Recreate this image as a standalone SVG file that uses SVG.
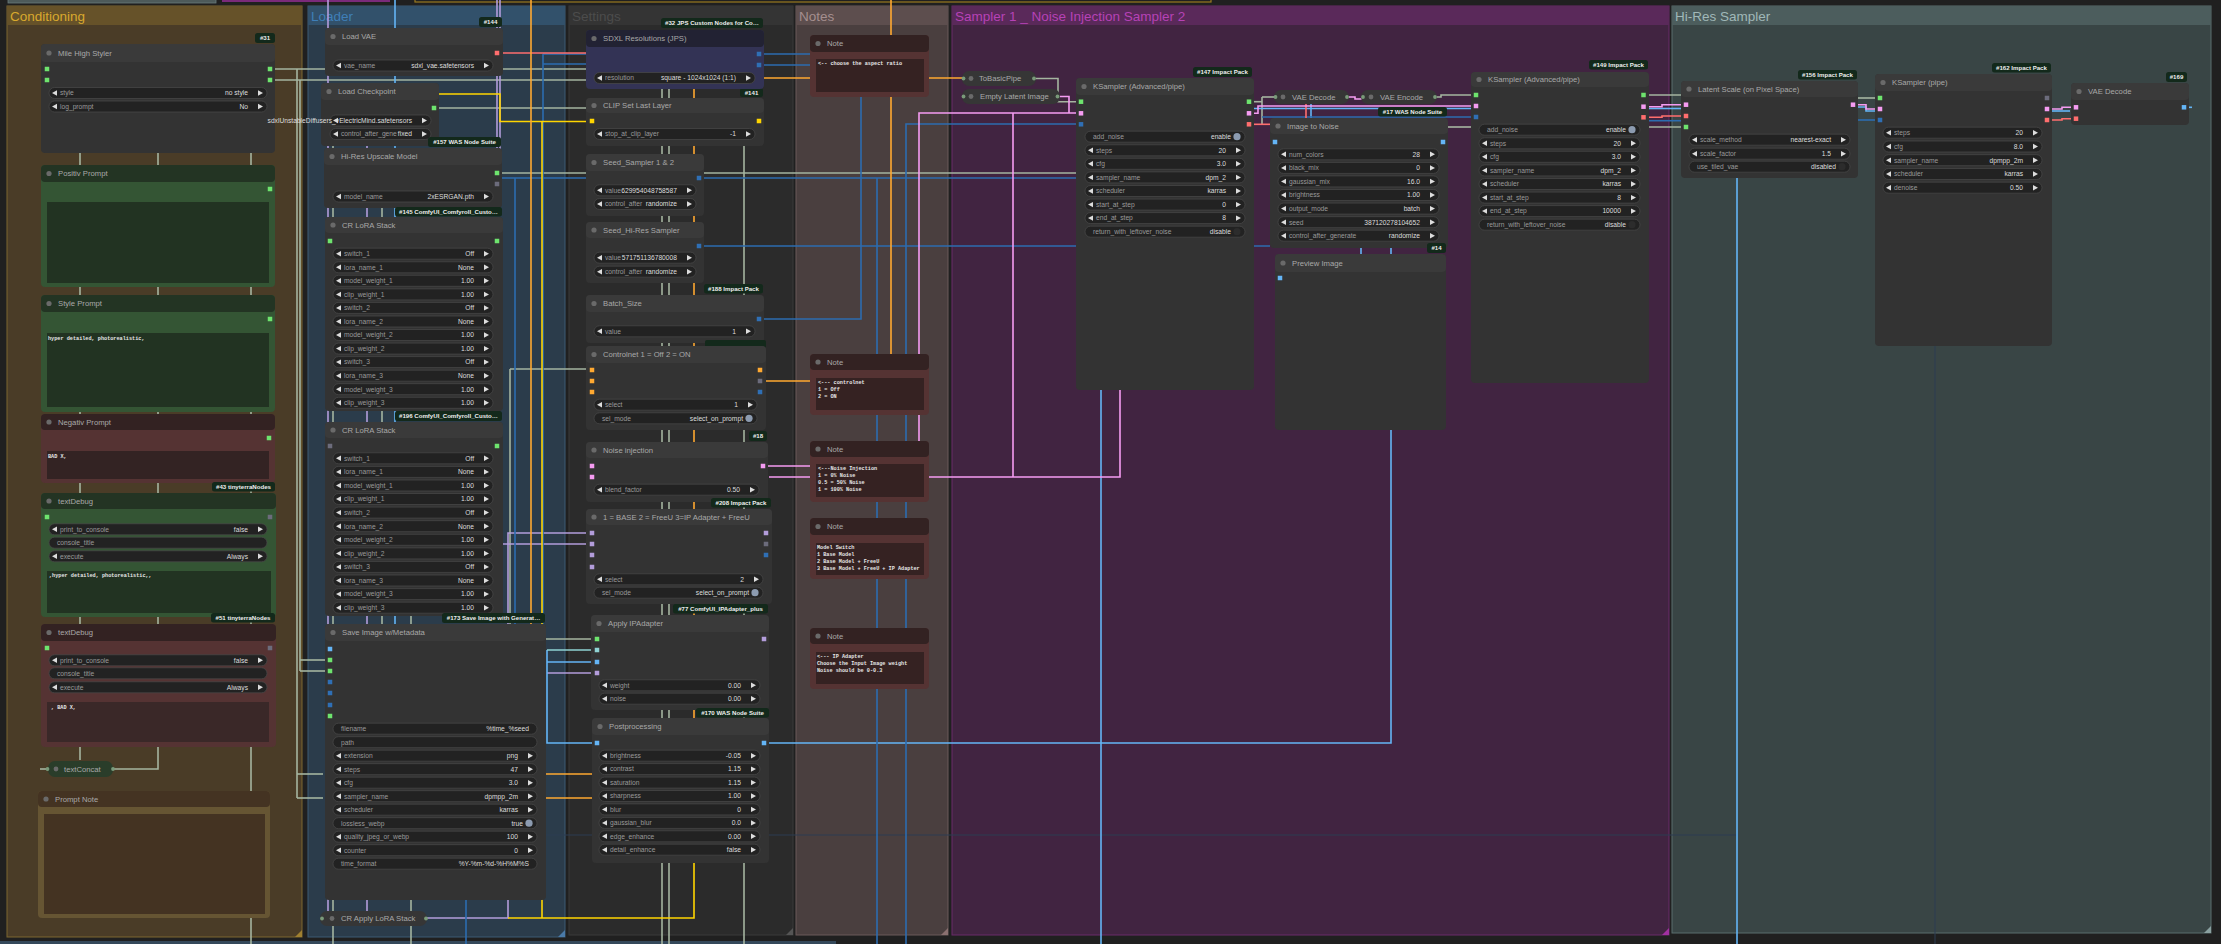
<svg xmlns="http://www.w3.org/2000/svg" width="2221" height="944" viewBox="0 0 2221 944">
<defs>
<style>
.nb{fill:#333333}.nt{fill:#3a3a3a}
.gb{fill:#345534}.gh{fill:#233423}
.rb{fill:#553333}.rh{fill:#332222}
.yb{fill:#665533}.yh{fill:#443322}
.bb{fill:#333355}.bh{fill:#222233}
.pill{fill:#363636}
.dt{fill:#6a6a6a}
.tt{font:7.7px "Liberation Sans",Arial,sans-serif;fill:#a9a9a9}
.wp{fill:#222222;stroke:#4b4b4b;stroke-width:.7}
.wl{font:6.7px "Liberation Sans",Arial,sans-serif;fill:#9a9a9a}
.wv{font:6.7px "Liberation Sans",Arial,sans-serif;fill:#dddddd;text-anchor:end}
.bd{fill:#13291b}
.bt{font:bold 6.1px "Liberation Sans",Arial,sans-serif;fill:#eeeeee;text-anchor:middle}
.gt{font:13.5px "Liberation Sans",Arial,sans-serif}
.mono{font:bold 5.2px "Liberation Mono","Courier New",monospace;fill:#e6e6e6}
.sG{fill:#6ee46e}.sP{fill:#f59cf2}.sR{fill:#ff6e6e}.sB{fill:#2f6fb5}.sL{fill:#64b5f6}.sY{fill:#ffd500}.sO{fill:#ffa931}.sV{fill:#b39ddb}.sX{fill:#6c6c7c}.sC{fill:#8fd3d3}
.ton{fill:#8c9bb0}.toff{fill:#2c2c2c}
.cd{fill:#7a9a7a}
</style>
<path id="la" d="M0,0l5,-2.7v5.4z" fill="#dddddd"/>
<path id="ra" d="M0,0l-5,-2.7v5.4z" fill="#dddddd"/>
<rect id="sq" width="4.5" height="4.5"/>
</defs>
<rect x="0" y="0" width="2221" height="944" fill="#202020"/>

<!-- groups -->
<g id="group-conditioning">
<rect x="7" y="6" width="295" height="931" fill="#4a3c27" stroke="#7c6630" stroke-width="1"/>
<rect x="7" y="6" width="295" height="19" fill="#665229"/>
<text class="gt" x="10" y="21" fill="#d9a92e">Conditioning</text>
<path d="M302,930L302,937L295,937Z" fill="#a08030"/>
</g>
<g id="group-loader">
<rect x="308" y="6" width="257" height="931" fill="#2b3c4b" stroke="#3d5a74" stroke-width="1"/>
<rect x="308" y="6" width="257" height="19" fill="#32516b"/>
<text class="gt" x="311" y="21" fill="#3f7fb8">Loader</text>
<path d="M565,930L565,937L558,937Z" fill="#4a7aa8"/>
</g>
<g id="group-settings">
<rect x="569" y="6" width="224" height="929" fill="#2b2b2b" stroke="#3a3a3a" stroke-width="1"/>
<rect x="569" y="6" width="224" height="19" fill="#343434"/>
<text class="gt" x="572" y="21" fill="#4c4c4c">Settings</text>
<path d="M793,928L793,935L786,935Z" fill="#555555"/>
</g>
<g id="group-notes">
<rect x="796" y="6" width="152" height="929" fill="#4a3f3f" stroke="#6a5a5a" stroke-width="1"/>
<rect x="796" y="6" width="152" height="19" fill="#5d4e4e"/>
<text class="gt" x="799" y="21" fill="#a58f8f">Notes</text>
<path d="M948,928L948,935L941,935Z" fill="#8a7070"/>
</g>
<g id="group-sampler">
<rect x="952" y="6" width="717" height="929" fill="#412441" stroke="#6a2a6a" stroke-width="1"/>
<rect x="952" y="6" width="717" height="19" fill="#5a295a"/>
<text class="gt" x="955" y="21" fill="#b642b6">Sampler 1 _ Noise Injection Sampler 2</text>
<path d="M1669,928L1669,935L1662,935Z" fill="#a030a0"/>
</g>
<g id="group-hires">
<rect x="1672" y="6" width="539" height="927" fill="#394545" stroke="#5a6e6e" stroke-width="1"/>
<rect x="1672" y="6" width="539" height="19" fill="#4c5d5d"/>
<text class="gt" x="1675" y="21" fill="#a0b8b8">Hi-Res Sampler</text>
<path d="M2211,926L2211,933L2204,933Z" fill="#8aa0a0"/>
</g>
<g id="offscreen-group-edges">
<rect x="8" y="-2" width="208" height="5" fill="#4d5a5a" stroke="#6a7a7a" stroke-width=".8"/>
<rect x="222" y="-2" width="168" height="4" fill="#7a2a7a"/>
<rect x="415" y="-3" width="796" height="5" fill="none" stroke="#9a7a20" stroke-width="1.2"/>
<rect x="0" y="941" width="836" height="4" fill="#34485a"/>
</g>

<!-- connectors -->
<g id="connectors" fill="none" stroke-width="1.6">
<g stroke="#2d3c52" stroke-width="1">
<path d="M546,835H1737"/><path d="M1935,346V944"/>
</g>
<g stroke="#a5b5a0">
<path d="M270,69H586"/><path d="M270,80H586"/>
<path d="M297,69V798"/><path d="M300,80V671"/>
<path d="M300,660H330"/><path d="M300,671H330"/>
<path d="M297,774H323"/><path d="M297,798H323"/>
<path d="M80,153V760"/><path d="M158,153V769H113"/><path d="M251,153V944"/>
<path d="M40,769H47"/>
<path d="M333,146V944"/><path d="M382,208V624"/><path d="M411,613V944"/>
<path d="M434,108H586"/><path d="M497,173H1076"/>
<path d="M510,369V639H597"/><path d="M510,369H586"/>
<path d="M662,83V944"/><path d="M669,83V944"/><path d="M744,146V944"/>
<path d="M1034,78.5H1058V101.7H1081"/>
<path d="M1249,101.7H1262"/><path d="M1262,97V125"/><path d="M1262,97H1275"/>
<path d="M1435,97H1441V95H1476"/><path d="M1448,127H1476"/>
<path d="M1643,95H1681"/><path d="M1649,127H1686"/><path d="M1858,98H1880"/>
</g>
<g stroke="#b39ddb">
<path d="M328,0V911"/><path d="M367,146V911"/>
<path d="M497,0V150"/><path d="M500,0V150"/>
<path d="M425,918H508V533H592"/><path d="M503,544H592"/>
<path d="M547,673H597"/>
</g>
<g stroke="#64b5f6">
<path d="M395,0V624"/>
<path d="M547,650V743H597"/><path d="M547,662H597"/>
<path d="M764,743H1391V430"/>
<path d="M1101,390V944"/>
<path d="M1254,108.5H1476"/>
<path d="M1311,104V118"/><path d="M1361,248V254"/><path d="M1391,248V254"/>
<path d="M1649,108.5H1681"/>
<path d="M1858,107H1866V111H1876"/><path d="M2052,111H2070"/><path d="M2186,107.3H2192"/>
<path d="M1737,178V944"/>
</g>
<path stroke="#8fd3d3" d="M547,650H597"/>
<g stroke="#2c6cb0">
<path d="M466,640V944"/>
<path d="M543,54V662"/><path d="M543,54H586"/><path d="M543,64H586"/>
<path d="M502,178H1076"/><path d="M515,178V650"/>
<path d="M764,54H810"/><path d="M764,65H810"/>
<path d="M764,319H861V97"/>
<path d="M877,178V944"/>
<path d="M906,944V124H1081"/>
<path d="M699,246H1270"/>
<path d="M1262,117H1476"/>
<path d="M1649,120.7H1681"/><path d="M1858,120H1880"/>
</g>
<g stroke="#ff6e6e">
<path d="M497,53H586"/>
<path d="M1249,124.3H1270"/><path d="M1306,104V118"/>
<path d="M1643,117.3H1662V116H1686"/>
<path d="M2047,120H2062V118.7H2076"/>
</g>
<g stroke="#ffd500">
<path d="M439,94H500V121.5H592"/>
<path d="M542,121.5V918"/>
<path d="M508,918H694V863"/>
</g>
<g stroke="#ffa931">
<path d="M531,0V624"/>
<path d="M531,774H592"/><path d="M531,798H592"/>
<path d="M764,78H964"/>
<path d="M694,83V718"/>
<path d="M766,381H891V0"/>
</g>
<g stroke="#f59cf2">
<path d="M764,466H919V113H1081"/>
<path d="M769,477H1120V390"/>
<path d="M1013,113V477"/>
<path d="M1057,96.5H1069V113"/>
<path d="M1249,113.3H1258V106H1476"/>
<path d="M1347,97H1355V99H1363"/>
<path d="M1643,106.7H1662V104.7H1686"/>
<path d="M1853,104.7H1866V109H1880"/>
<path d="M2047,109H2062V107.3H2076"/>
</g>
</g>

<!-- ===== Conditioning nodes ===== -->
<g id="node-31-mile-high-styler">
<rect class="bd" x="255" y="33" width="20" height="10" rx="2.5"/><text class="bt" x="265" y="40.3">#31</text>
<rect class="nb" x="41" y="44" width="234" height="109" rx="4"/>
<rect class="nt" x="41" y="44" width="234" height="18" rx="4"/>
<circle class="dt" cx="49" cy="53" r="2.6"/><text class="tt" x="58" y="55.7">Mile High Styler</text>
<use href="#sq" class="sG" x="44.75" y="66.75"/><use href="#sq" class="sG" x="44.75" y="77.75"/>
<use href="#sq" class="sG" x="267.75" y="66.75"/><use href="#sq" class="sG" x="267.75" y="77.75"/>
<rect class="wp" x="49" y="87.5" width="218" height="11" rx="5.5"/><use href="#la" x="52" y="93"/><use href="#ra" x="263" y="93"/><text class="wl" x="60" y="95.3">style</text><text class="wv" x="248" y="95.3">no style</text>
<rect class="wp" x="49" y="101" width="218" height="11" rx="5.5"/><use href="#la" x="52" y="106.5"/><use href="#ra" x="263" y="106.5"/><text class="wl" x="60" y="108.8">log_prompt</text><text class="wv" x="248" y="108.8">No</text>
</g>
<g id="node-positiv-prompt">
<rect class="gb" x="41" y="165" width="234" height="122" rx="4"/>
<rect class="gh" x="41" y="165" width="234" height="17" rx="4"/>
<circle class="dt" cx="49" cy="173.5" r="2.6"/><text class="tt" x="58" y="176.2">Positiv Prompt</text>
<use href="#sq" class="sG" x="267.75" y="186.75"/>
<rect x="47" y="202" width="222" height="81" fill="#223322"/>
</g>
<g id="node-style-prompt">
<rect class="gb" x="41" y="295" width="234" height="117" rx="4"/>
<rect class="gh" x="41" y="295" width="234" height="17" rx="4"/>
<circle class="dt" cx="49" cy="303.5" r="2.6"/><text class="tt" x="58" y="306.2">Style Prompt</text>
<use href="#sq" class="sG" x="267.75" y="316.75"/>
<rect x="47" y="333" width="222" height="74" fill="#223322"/>
<text class="mono" x="48" y="339.5">hyper detailed, photorealistic,</text>
</g>
<g id="node-negativ-prompt">
<rect class="rb" x="41" y="414" width="234" height="69" rx="4"/>
<rect class="rh" x="41" y="414" width="234" height="16" rx="4"/>
<circle class="dt" cx="49" cy="422" r="2.6"/><text class="tt" x="58" y="424.7">Negativ Prompt</text>
<use href="#sq" class="sG" x="266.75" y="435.75"/>
<rect x="47" y="451" width="222" height="28" fill="#332323"/>
<text class="mono" x="48" y="457.5">BAD X,</text>
</g>
<g id="node-43-textdebug">
<rect class="bd" x="212" y="482" width="63" height="9.5" rx="2.5"/><text class="bt" x="243.5" y="489">#43 tinyterraNodes</text>
<rect class="gb" x="41" y="493" width="235" height="124" rx="4"/>
<rect class="gh" x="41" y="493" width="235" height="16" rx="4"/>
<circle class="dt" cx="49" cy="501" r="2.6"/><text class="tt" x="58" y="503.7">textDebug</text>
<use href="#sq" class="sG" x="44.75" y="514.75"/><use href="#sq" class="sX" x="267.75" y="514.75"/>
<rect class="wp" x="49" y="523.8" width="218" height="11" rx="5.5"/><use href="#la" x="52" y="529.3"/><use href="#ra" x="263" y="529.3"/><text class="wl" x="60" y="531.6">print_to_console</text><text class="wv" x="248" y="531.6">false</text>
<rect class="wp" x="49" y="537.2" width="218" height="11" rx="5.5"/><text class="wl" x="57" y="545">console_title</text>
<rect class="wp" x="49" y="550.8" width="218" height="11" rx="5.5"/><use href="#la" x="52" y="556.3"/><use href="#ra" x="263" y="556.3"/><text class="wl" x="60" y="558.6">execute</text><text class="wv" x="248" y="558.6">Always</text>
<rect x="47" y="571" width="224" height="42" fill="#223322"/>
<text class="mono" x="49" y="577">,hyper detailed, photorealistic,,</text>
</g>
<g id="node-51-textdebug">
<rect class="bd" x="211" y="613" width="64" height="9.5" rx="2.5"/><text class="bt" x="243" y="620">#51 tinyterraNodes</text>
<rect class="rb" x="41" y="624" width="235" height="123" rx="4"/>
<rect class="rh" x="41" y="624" width="235" height="17" rx="4"/>
<circle class="dt" cx="49" cy="632.5" r="2.6"/><text class="tt" x="58" y="635.2">textDebug</text>
<use href="#sq" class="sG" x="44.75" y="645.75"/><use href="#sq" class="sX" x="267.75" y="645.75"/>
<rect class="wp" x="49" y="654.8" width="218" height="11" rx="5.5"/><use href="#la" x="52" y="660.3"/><use href="#ra" x="263" y="660.3"/><text class="wl" x="60" y="662.6">print_to_console</text><text class="wv" x="248" y="662.6">false</text>
<rect class="wp" x="49" y="667.8" width="218" height="11" rx="5.5"/><text class="wl" x="57" y="675.6">console_title</text>
<rect class="wp" x="49" y="681.8" width="218" height="11" rx="5.5"/><use href="#la" x="52" y="687.3"/><use href="#ra" x="263" y="687.3"/><text class="wl" x="60" y="689.6">execute</text><text class="wv" x="248" y="689.6">Always</text>
<rect x="47" y="702" width="222" height="40" fill="#3a2828"/>
<text class="mono" x="51" y="708.5">, BAD X,</text>
</g>
<g id="node-textconcat">
<rect x="48" y="761" width="65" height="16" rx="7" fill="#2a3d2a"/>
<circle class="dt" cx="56" cy="769" r="2.4"/><text class="tt" x="64" y="771.7">textConcat</text>
<circle class="cd" cx="47.5" cy="769" r="1.9"/><circle class="cd" cx="113" cy="769" r="1.9"/>
</g>
<g id="node-prompt-note">
<rect class="yb" x="38" y="791" width="232" height="127" rx="4"/>
<rect class="yh" x="38" y="791" width="232" height="16" rx="4"/>
<circle class="dt" cx="46" cy="799" r="2.6"/><text class="tt" x="55" y="801.7">Prompt Note</text>
<rect x="44" y="814" width="221" height="100" fill="#443322"/>
</g>

<!-- ===== Loader nodes ===== -->
<g id="node-144-load-vae">
<rect class="bd" x="479" y="17" width="23" height="10" rx="2.5"/><text class="bt" x="490.5" y="24.3">#144</text>
<rect class="nb" x="325" y="28" width="178" height="48" rx="4"/>
<rect class="nt" x="325" y="28" width="178" height="17" rx="4"/>
<circle class="dt" cx="333" cy="36.5" r="2.6"/><text class="tt" x="342" y="39.2">Load VAE</text>
<use href="#sq" class="sR" x="494.75" y="50.75"/>
<rect class="wp" x="333" y="60" width="160" height="11" rx="5.5"/><use href="#la" x="336" y="65.5"/><use href="#ra" x="489" y="65.5"/><text class="wl" x="344" y="67.8">vae_name</text><text class="wv" x="474" y="67.8">sdxl_vae.safetensors</text>
</g>
<g id="node-load-checkpoint">
<rect class="nb" x="321" y="83" width="118" height="63" rx="4"/>
<rect class="nt" x="321" y="83" width="118" height="17" rx="4"/>
<circle class="dt" cx="329" cy="91.5" r="2.6"/><text class="tt" x="338" y="94.2">Load Checkpoint</text>
<use href="#sq" class="sG" x="431.75" y="105.75"/>
<rect class="wp" x="330" y="115" width="101" height="11" rx="5.5"/><use href="#la" x="333" y="120.5"/><use href="#ra" x="427" y="120.5"/><text class="wv" x="412" y="122.8">sdxlUnstableDiffusers_vElectricMind.safetensors</text>
<rect class="wp" x="330" y="128.5" width="101" height="11" rx="5.5"/><use href="#la" x="333" y="134"/><use href="#ra" x="427" y="134"/><text class="wl" x="341" y="136.3">control_after_gene</text><text class="wv" x="412" y="136.3">fixed</text>
</g>
<g id="node-157-hires-upscale-model">
<rect class="bd" x="428" y="137" width="73" height="10" rx="2.5"/><text class="bt" x="464.5" y="144.3">#157 WAS Node Suite</text>
<rect class="nb" x="324" y="148" width="178" height="60" rx="4"/>
<rect class="nt" x="324" y="148" width="178" height="17" rx="4"/>
<circle class="dt" cx="332" cy="156.5" r="2.6"/><text class="tt" x="341" y="159.2">Hi-Res Upscale Model</text>
<use href="#sq" class="sG" x="494.75" y="170.75"/><use href="#sq" class="sX" x="494.75" y="181.75"/>
<rect class="wp" x="333" y="191" width="160" height="11" rx="5.5"/><use href="#la" x="336" y="196.5"/><use href="#ra" x="489" y="196.5"/><text class="wl" x="344" y="198.8">model_name</text><text class="wv" x="474" y="198.8">2xESRGAN.pth</text>
</g>
<g id="node-145-cr-lora-stack">
<rect class="bd" x="395" y="207" width="107" height="9.5" rx="2.5"/><text class="bt" x="448.5" y="214">#145 ComfyUI_Comfyroll_Custo…</text>
<rect class="nb" x="325" y="217" width="178" height="194" rx="4"/>
<rect class="nt" x="325" y="217" width="178" height="16" rx="4"/>
<circle class="dt" cx="333" cy="225" r="2.6"/><text class="tt" x="342" y="227.7">CR LoRA Stack</text>
<use href="#sq" class="sG" x="327.75" y="238.75"/><use href="#sq" class="sG" x="494.75" y="238.75"/>
<g>
<rect class="wp" x="333" y="248.2" width="160" height="11" rx="5.5"/><use href="#la" x="336" y="253.7"/><use href="#ra" x="489" y="253.7"/><text class="wl" x="344" y="256">switch_1</text><text class="wv" x="474" y="256">Off</text>
<rect class="wp" x="333" y="261.8" width="160" height="11" rx="5.5"/><use href="#la" x="336" y="267.3"/><use href="#ra" x="489" y="267.3"/><text class="wl" x="344" y="269.6">lora_name_1</text><text class="wv" x="474" y="269.6">None</text>
<rect class="wp" x="333" y="275.3" width="160" height="11" rx="5.5"/><use href="#la" x="336" y="280.8"/><use href="#ra" x="489" y="280.8"/><text class="wl" x="344" y="283.1">model_weight_1</text><text class="wv" x="474" y="283.1">1.00</text>
<rect class="wp" x="333" y="288.9" width="160" height="11" rx="5.5"/><use href="#la" x="336" y="294.4"/><use href="#ra" x="489" y="294.4"/><text class="wl" x="344" y="296.7">clip_weight_1</text><text class="wv" x="474" y="296.7">1.00</text>
<rect class="wp" x="333" y="302.4" width="160" height="11" rx="5.5"/><use href="#la" x="336" y="307.9"/><use href="#ra" x="489" y="307.9"/><text class="wl" x="344" y="310.2">switch_2</text><text class="wv" x="474" y="310.2">Off</text>
<rect class="wp" x="333" y="316" width="160" height="11" rx="5.5"/><use href="#la" x="336" y="321.5"/><use href="#ra" x="489" y="321.5"/><text class="wl" x="344" y="323.8">lora_name_2</text><text class="wv" x="474" y="323.8">None</text>
<rect class="wp" x="333" y="329.5" width="160" height="11" rx="5.5"/><use href="#la" x="336" y="335"/><use href="#ra" x="489" y="335"/><text class="wl" x="344" y="337.3">model_weight_2</text><text class="wv" x="474" y="337.3">1.00</text>
<rect class="wp" x="333" y="343.1" width="160" height="11" rx="5.5"/><use href="#la" x="336" y="348.6"/><use href="#ra" x="489" y="348.6"/><text class="wl" x="344" y="350.9">clip_weight_2</text><text class="wv" x="474" y="350.9">1.00</text>
<rect class="wp" x="333" y="356.6" width="160" height="11" rx="5.5"/><use href="#la" x="336" y="362.1"/><use href="#ra" x="489" y="362.1"/><text class="wl" x="344" y="364.4">switch_3</text><text class="wv" x="474" y="364.4">Off</text>
<rect class="wp" x="333" y="370.2" width="160" height="11" rx="5.5"/><use href="#la" x="336" y="375.7"/><use href="#ra" x="489" y="375.7"/><text class="wl" x="344" y="378">lora_name_3</text><text class="wv" x="474" y="378">None</text>
<rect class="wp" x="333" y="383.7" width="160" height="11" rx="5.5"/><use href="#la" x="336" y="389.2"/><use href="#ra" x="489" y="389.2"/><text class="wl" x="344" y="391.5">model_weight_3</text><text class="wv" x="474" y="391.5">1.00</text>
<rect class="wp" x="333" y="397.3" width="160" height="11" rx="5.5"/><use href="#la" x="336" y="402.8"/><use href="#ra" x="489" y="402.8"/><text class="wl" x="344" y="405.1">clip_weight_3</text><text class="wv" x="474" y="405.1">1.00</text>
</g>
</g>
<g id="node-196-cr-lora-stack">
<rect class="bd" x="395" y="411" width="107" height="10" rx="2.5"/><text class="bt" x="448.5" y="418.3">#196 ComfyUI_Comfyroll_Custo…</text>
<rect class="nb" x="325" y="422" width="178" height="194" rx="4"/>
<rect class="nt" x="325" y="422" width="178" height="16" rx="4"/>
<circle class="dt" cx="333" cy="430" r="2.6"/><text class="tt" x="342" y="432.7">CR LoRA Stack</text>
<use href="#sq" class="sX" x="327.75" y="443.75"/><use href="#sq" class="sG" x="494.75" y="443.75"/>
<rect class="wp" x="333" y="452.8" width="160" height="11" rx="5.5"/><use href="#la" x="336" y="458.3"/><use href="#ra" x="489" y="458.3"/><text class="wl" x="344" y="460.6">switch_1</text><text class="wv" x="474" y="460.6">Off</text>
<rect class="wp" x="333" y="466.4" width="160" height="11" rx="5.5"/><use href="#la" x="336" y="471.9"/><use href="#ra" x="489" y="471.9"/><text class="wl" x="344" y="474.2">lora_name_1</text><text class="wv" x="474" y="474.2">None</text>
<rect class="wp" x="333" y="480" width="160" height="11" rx="5.5"/><use href="#la" x="336" y="485.5"/><use href="#ra" x="489" y="485.5"/><text class="wl" x="344" y="487.8">model_weight_1</text><text class="wv" x="474" y="487.8">1.00</text>
<rect class="wp" x="333" y="493.5" width="160" height="11" rx="5.5"/><use href="#la" x="336" y="499"/><use href="#ra" x="489" y="499"/><text class="wl" x="344" y="501.3">clip_weight_1</text><text class="wv" x="474" y="501.3">1.00</text>
<rect class="wp" x="333" y="507.1" width="160" height="11" rx="5.5"/><use href="#la" x="336" y="512.6"/><use href="#ra" x="489" y="512.6"/><text class="wl" x="344" y="514.9">switch_2</text><text class="wv" x="474" y="514.9">Off</text>
<rect class="wp" x="333" y="520.7" width="160" height="11" rx="5.5"/><use href="#la" x="336" y="526.2"/><use href="#ra" x="489" y="526.2"/><text class="wl" x="344" y="528.5">lora_name_2</text><text class="wv" x="474" y="528.5">None</text>
<rect class="wp" x="333" y="534.3" width="160" height="11" rx="5.5"/><use href="#la" x="336" y="539.8"/><use href="#ra" x="489" y="539.8"/><text class="wl" x="344" y="542.1">model_weight_2</text><text class="wv" x="474" y="542.1">1.00</text>
<rect class="wp" x="333" y="547.9" width="160" height="11" rx="5.5"/><use href="#la" x="336" y="553.4"/><use href="#ra" x="489" y="553.4"/><text class="wl" x="344" y="555.7">clip_weight_2</text><text class="wv" x="474" y="555.7">1.00</text>
<rect class="wp" x="333" y="561.4" width="160" height="11" rx="5.5"/><use href="#la" x="336" y="566.9"/><use href="#ra" x="489" y="566.9"/><text class="wl" x="344" y="569.2">switch_3</text><text class="wv" x="474" y="569.2">Off</text>
<rect class="wp" x="333" y="575" width="160" height="11" rx="5.5"/><use href="#la" x="336" y="580.5"/><use href="#ra" x="489" y="580.5"/><text class="wl" x="344" y="582.8">lora_name_3</text><text class="wv" x="474" y="582.8">None</text>
<rect class="wp" x="333" y="588.6" width="160" height="11" rx="5.5"/><use href="#la" x="336" y="594.1"/><use href="#ra" x="489" y="594.1"/><text class="wl" x="344" y="596.4">model_weight_3</text><text class="wv" x="474" y="596.4">1.00</text>
<rect class="wp" x="333" y="602.2" width="160" height="11" rx="5.5"/><use href="#la" x="336" y="607.7"/><use href="#ra" x="489" y="607.7"/><text class="wl" x="344" y="610">clip_weight_3</text><text class="wv" x="474" y="610">1.00</text>
</g>
<g id="node-173-save-image-metadata">
<rect class="bd" x="442" y="613" width="103" height="10" rx="2.5"/><text class="bt" x="493.5" y="620.3">#173 Save Image with Generat…</text>
<rect class="nb" x="325" y="624" width="221" height="276" rx="4"/>
<rect class="nt" x="325" y="624" width="221" height="17" rx="4"/>
<circle class="dt" cx="333" cy="632.5" r="2.6"/><text class="tt" x="342" y="635.2">Save Image w/Metadata</text>
<use href="#sq" class="sL" x="327.75" y="646.75"/><use href="#sq" class="sG" x="327.75" y="657.75"/><use href="#sq" class="sG" x="327.75" y="668.75"/><use href="#sq" class="sB" x="327.75" y="679.75"/><use href="#sq" class="sB" x="327.75" y="690.75"/><use href="#sq" class="sB" x="327.75" y="702.75"/><use href="#sq" class="sG" x="327.75" y="713.75"/>
<rect class="wp" x="333" y="723.2" width="204" height="11" rx="5.5"/><text class="wl" x="341" y="731">filename</text><text class="wv" x="529" y="731">%time_%seed</text>
<rect class="wp" x="333" y="736.7" width="204" height="11" rx="5.5"/><text class="wl" x="341" y="744.5">path</text>
<rect class="wp" x="333" y="750.2" width="204" height="11" rx="5.5"/><use href="#la" x="336" y="755.7"/><use href="#ra" x="533" y="755.7"/><text class="wl" x="344" y="758">extension</text><text class="wv" x="518" y="758">png</text>
<rect class="wp" x="333" y="763.7" width="204" height="11" rx="5.5"/><use href="#la" x="336" y="769.2"/><use href="#ra" x="533" y="769.2"/><text class="wl" x="344" y="771.5">steps</text><text class="wv" x="518" y="771.5">47</text>
<rect class="wp" x="333" y="777.2" width="204" height="11" rx="5.5"/><use href="#la" x="336" y="782.7"/><use href="#ra" x="533" y="782.7"/><text class="wl" x="344" y="785">cfg</text><text class="wv" x="518" y="785">3.0</text>
<rect class="wp" x="333" y="790.7" width="204" height="11" rx="5.5"/><use href="#la" x="336" y="796.2"/><use href="#ra" x="533" y="796.2"/><text class="wl" x="344" y="798.5">sampler_name</text><text class="wv" x="518" y="798.5">dpmpp_2m</text>
<rect class="wp" x="333" y="804.2" width="204" height="11" rx="5.5"/><use href="#la" x="336" y="809.7"/><use href="#ra" x="533" y="809.7"/><text class="wl" x="344" y="812">scheduler</text><text class="wv" x="518" y="812">karras</text>
<rect class="wp" x="333" y="817.7" width="204" height="11" rx="5.5"/><text class="wl" x="341" y="825.5">lossless_webp</text><text class="wv" x="523" y="825.5">true</text><circle class="ton" cx="529" cy="823.2" r="3.6"/>
<rect class="wp" x="333" y="831.2" width="204" height="11" rx="5.5"/><use href="#la" x="336" y="836.7"/><use href="#ra" x="533" y="836.7"/><text class="wl" x="344" y="839">quality_jpeg_or_webp</text><text class="wv" x="518" y="839">100</text>
<rect class="wp" x="333" y="844.7" width="204" height="11" rx="5.5"/><use href="#la" x="336" y="850.2"/><use href="#ra" x="533" y="850.2"/><text class="wl" x="344" y="852.5">counter</text><text class="wv" x="518" y="852.5">0</text>
<rect class="wp" x="333" y="858.2" width="204" height="11" rx="5.5"/><text class="wl" x="341" y="866">time_format</text><text class="wv" x="529" y="866">%Y-%m-%d-%H%M%S</text>
</g>
<g id="node-cr-apply-lora-stack">
<rect class="pill" x="320" y="911" width="107" height="15" rx="7"/>
<circle class="dt" cx="332" cy="918.5" r="2.4"/><text class="tt" x="341" y="921.2">CR Apply LoRA Stack</text>
<circle class="cd" cx="322" cy="918.5" r="1.9"/><circle class="cd" cx="426" cy="918.5" r="1.9"/>
</g>

<!-- ===== Settings nodes ===== -->
<g id="node-141-clip-set-last-layer">
<rect class="bd" x="740" y="88" width="23" height="9" rx="2.5"/><text class="bt" x="751.5" y="94.8">#141</text>
<rect class="nb" x="586" y="98" width="178" height="48" rx="4"/>
<rect class="nt" x="586" y="98" width="178" height="15" rx="4"/>
<circle class="dt" cx="594" cy="105.5" r="2.6"/><text class="tt" x="603" y="108.2">CLIP Set Last Layer</text>
<use href="#sq" class="sY" x="589.75" y="118.75"/><use href="#sq" class="sY" x="756.75" y="118.75"/>
<rect class="wp" x="594" y="128.5" width="161" height="11" rx="5.5"/><use href="#la" x="597" y="134"/><use href="#ra" x="751" y="134"/><text class="wl" x="605" y="136.3">stop_at_clip_layer</text><text class="wv" x="736" y="136.3">-1</text>
</g>
<g id="node-32-sdxl-resolutions">
<rect class="bd" x="661" y="18" width="102" height="10" rx="2.5"/><text class="bt" x="712" y="25.3">#32 JPS Custom Nodes for Co…</text>
<rect class="bb" x="586" y="30" width="178" height="59" rx="4"/>
<rect class="bh" x="586" y="30" width="178" height="17" rx="4"/>
<circle class="dt" cx="594" cy="38.5" r="2.6"/><text class="tt" x="603" y="41.2">SDXL Resolutions (JPS)</text>
<use href="#sq" class="sB" x="756.75" y="51.75"/><use href="#sq" class="sB" x="756.75" y="62.75"/>
<rect class="wp" x="594" y="72.5" width="161" height="11" rx="5.5"/><use href="#la" x="597" y="78"/><use href="#ra" x="751" y="78"/><text class="wl" x="605" y="80.3">resolution</text><text class="wv" x="736" y="80.3">square - 1024x1024 (1:1)</text>
</g>
<g id="node-seed-sampler-1-2">
<rect class="nb" x="586" y="154" width="118" height="62" rx="4"/>
<rect class="nt" x="586" y="154" width="118" height="17" rx="4"/>
<circle class="dt" cx="594" cy="162.5" r="2.6"/><text class="tt" x="603" y="165.2">Seed_Sampler 1 &amp; 2</text>
<use href="#sq" class="sB" x="696.75" y="175.75"/>
<rect class="wp" x="594" y="184.8" width="102" height="11" rx="5.5"/><use href="#la" x="597" y="190.3"/><use href="#ra" x="692" y="190.3"/><text class="wl" x="605" y="192.6">value</text><text class="wv" x="677" y="192.6">629954048758587</text>
<rect class="wp" x="594" y="198.5" width="102" height="11" rx="5.5"/><use href="#la" x="597" y="204"/><use href="#ra" x="692" y="204"/><text class="wl" x="605" y="206.3">control_after</text><text class="wv" x="677" y="206.3">randomize</text>
</g>
<g id="node-seed-hires-sampler">
<rect class="nb" x="586" y="222" width="118" height="61" rx="4"/>
<rect class="nt" x="586" y="222" width="118" height="16" rx="4"/>
<circle class="dt" cx="594" cy="230" r="2.6"/><text class="tt" x="603" y="232.7">Seed_Hi-Res Sampler</text>
<use href="#sq" class="sB" x="696.75" y="243.75"/>
<rect class="wp" x="594" y="252.2" width="102" height="11" rx="5.5"/><use href="#la" x="597" y="257.7"/><use href="#ra" x="692" y="257.7"/><text class="wl" x="605" y="260">value</text><text class="wv" x="677" y="260">571751136780008</text>
<rect class="wp" x="594" y="266.2" width="102" height="11" rx="5.5"/><use href="#la" x="597" y="271.7"/><use href="#ra" x="692" y="271.7"/><text class="wl" x="605" y="274">control_after</text><text class="wv" x="677" y="274">randomize</text>
</g>
<g id="node-188-batch-size">
<rect class="bd" x="704" y="284" width="59" height="9.5" rx="2.5"/><text class="bt" x="733.5" y="291">#188 Impact Pack</text>
<rect class="nb" x="586" y="295" width="178" height="48" rx="4"/>
<rect class="nt" x="586" y="295" width="178" height="17" rx="4"/>
<circle class="dt" cx="594" cy="303.5" r="2.6"/><text class="tt" x="603" y="306.2">Batch_Size</text>
<use href="#sq" class="sB" x="756.75" y="316.75"/>
<rect class="wp" x="594" y="325.8" width="161" height="11" rx="5.5"/><use href="#la" x="597" y="331.3"/><use href="#ra" x="751" y="331.3"/><text class="wl" x="605" y="333.6">value</text><text class="wv" x="736" y="333.6">1</text>
</g>
<g id="node-controlnet-switch">
<rect class="bd" x="705" y="340" width="61" height="8" rx="2"/>
<rect class="nb" x="586" y="346" width="180" height="84" rx="4"/>
<rect class="nt" x="586" y="346" width="180" height="17" rx="4"/>
<circle class="dt" cx="594" cy="354.5" r="2.6"/><text class="tt" x="603" y="357.2">Controlnet 1 = Off 2 = ON</text>
<use href="#sq" class="sO" x="589.75" y="367.75"/><use href="#sq" class="sO" x="589.75" y="378.75"/><use href="#sq" class="sO" x="589.75" y="389.75"/>
<use href="#sq" class="sO" x="757.75" y="367.75"/><use href="#sq" class="sX" x="757.75" y="378.75"/><use href="#sq" class="sB" x="757.75" y="389.75"/>
<rect class="wp" x="594" y="399.2" width="163" height="11" rx="5.5"/><use href="#la" x="597" y="404.7"/><use href="#ra" x="753" y="404.7"/><text class="wl" x="605" y="407">select</text><text class="wv" x="738" y="407">1</text>
<rect class="wp" x="594" y="412.8" width="163" height="11" rx="5.5"/><text class="wl" x="602" y="420.6">sel_mode</text><text class="wv" x="743" y="420.6">select_on_prompt</text><circle class="ton" cx="749" cy="418.3" r="3.6"/>
</g>
<g id="node-18-noise-injection">
<rect class="bd" x="749" y="431" width="18" height="10" rx="2.5"/><text class="bt" x="758" y="438.3">#18</text>
<rect class="nb" x="586" y="442" width="182" height="60" rx="4"/>
<rect class="nt" x="586" y="442" width="182" height="16" rx="4"/>
<circle class="dt" cx="594" cy="450" r="2.6"/><text class="tt" x="603" y="452.7">Noise injection</text>
<use href="#sq" class="sP" x="589.75" y="463.75"/><use href="#sq" class="sP" x="589.75" y="474.75"/><use href="#sq" class="sP" x="760.75" y="463.75"/>
<rect class="wp" x="594" y="484.2" width="165" height="11" rx="5.5"/><use href="#la" x="597" y="489.7"/><use href="#ra" x="755" y="489.7"/><text class="wl" x="605" y="492">blend_factor</text><text class="wv" x="740" y="492">0.50</text>
</g>
<g id="node-208-model-switch">
<rect class="bd" x="711" y="498" width="60" height="9.5" rx="2.5"/><text class="bt" x="741" y="505">#208 Impact Pack</text>
<rect class="nb" x="586" y="509" width="186" height="95" rx="4"/>
<rect class="nt" x="586" y="509" width="186" height="16" rx="4"/>
<circle class="dt" cx="594" cy="517" r="2.6"/><text class="tt" x="603" y="519.7">1 = BASE 2 = FreeU 3=IP Adapter + FreeU</text>
<use href="#sq" class="sV" x="589.75" y="530.75"/><use href="#sq" class="sV" x="589.75" y="541.75"/><use href="#sq" class="sV" x="589.75" y="552.75"/><use href="#sq" class="sV" x="589.75" y="564.75"/>
<use href="#sq" class="sV" x="763.75" y="530.75"/><use href="#sq" class="sX" x="763.75" y="541.75"/><use href="#sq" class="sB" x="763.75" y="552.75"/>
<rect class="wp" x="594" y="573.8" width="169" height="11" rx="5.5"/><use href="#la" x="597" y="579.3"/><use href="#ra" x="759" y="579.3"/><text class="wl" x="605" y="581.6">select</text><text class="wv" x="744" y="581.6">2</text>
<rect class="wp" x="594" y="587.2" width="169" height="11" rx="5.5"/><text class="wl" x="602" y="595">sel_mode</text><text class="wv" x="749" y="595">select_on_prompt</text><circle class="ton" cx="755" cy="592.7" r="3.6"/>
</g>
<g id="node-77-apply-ipadapter">
<rect class="bd" x="673" y="604" width="95" height="9.5" rx="2.5"/><text class="bt" x="720.5" y="611">#77 ComfyUI_IPAdapter_plus</text>
<rect class="nb" x="591" y="615" width="178" height="95" rx="4"/>
<rect class="nt" x="591" y="615" width="178" height="17" rx="4"/>
<circle class="dt" cx="599" cy="623.5" r="2.6"/><text class="tt" x="608" y="626.2">Apply IPAdapter</text>
<use href="#sq" class="sG" x="594.75" y="636.75"/><use href="#sq" class="sC" x="594.75" y="647.75"/><use href="#sq" class="sL" x="594.75" y="659.75"/><use href="#sq" class="sV" x="594.75" y="670.75"/>
<use href="#sq" class="sV" x="761.75" y="636.75"/>
<rect class="wp" x="599" y="679.8" width="161" height="11" rx="5.5"/><use href="#la" x="602" y="685.3"/><use href="#ra" x="756" y="685.3"/><text class="wl" x="610" y="687.6">weight</text><text class="wv" x="741" y="687.6">0.00</text>
<rect class="wp" x="599" y="693.2" width="161" height="11" rx="5.5"/><use href="#la" x="602" y="698.7"/><use href="#ra" x="756" y="698.7"/><text class="wl" x="610" y="701">noise</text><text class="wv" x="741" y="701">0.00</text>
</g>
<g id="node-170-postprocessing">
<rect class="bd" x="696" y="708" width="73" height="9.5" rx="2.5"/><text class="bt" x="732.5" y="715">#170 WAS Node Suite</text>
<rect class="nb" x="592" y="718" width="177" height="145" rx="4"/>
<rect class="nt" x="592" y="718" width="177" height="17" rx="4"/>
<circle class="dt" cx="600" cy="726.5" r="2.6"/><text class="tt" x="609" y="729.2">Postprocessing</text>
<use href="#sq" class="sL" x="594.75" y="740.75"/><use href="#sq" class="sL" x="761.75" y="740.75"/>
<rect class="wp" x="599" y="750.2" width="161" height="11" rx="5.5"/><use href="#la" x="602" y="755.7"/><use href="#ra" x="756" y="755.7"/><text class="wl" x="610" y="758">brightness</text><text class="wv" x="741" y="758">-0.05</text>
<rect class="wp" x="599" y="763.6" width="161" height="11" rx="5.5"/><use href="#la" x="602" y="769.1"/><use href="#ra" x="756" y="769.1"/><text class="wl" x="610" y="771.4">contrast</text><text class="wv" x="741" y="771.4">1.15</text>
<rect class="wp" x="599" y="777.1" width="161" height="11" rx="5.5"/><use href="#la" x="602" y="782.6"/><use href="#ra" x="756" y="782.6"/><text class="wl" x="610" y="784.9">saturation</text><text class="wv" x="741" y="784.9">1.15</text>
<rect class="wp" x="599" y="790.5" width="161" height="11" rx="5.5"/><use href="#la" x="602" y="796"/><use href="#ra" x="756" y="796"/><text class="wl" x="610" y="798.3">sharpness</text><text class="wv" x="741" y="798.3">1.00</text>
<rect class="wp" x="599" y="803.9" width="161" height="11" rx="5.5"/><use href="#la" x="602" y="809.4"/><use href="#ra" x="756" y="809.4"/><text class="wl" x="610" y="811.7">blur</text><text class="wv" x="741" y="811.7">0</text>
<rect class="wp" x="599" y="817.4" width="161" height="11" rx="5.5"/><use href="#la" x="602" y="822.9"/><use href="#ra" x="756" y="822.9"/><text class="wl" x="610" y="825.2">gaussian_blur</text><text class="wv" x="741" y="825.2">0.0</text>
<rect class="wp" x="599" y="830.8" width="161" height="11" rx="5.5"/><use href="#la" x="602" y="836.3"/><use href="#ra" x="756" y="836.3"/><text class="wl" x="610" y="838.6">edge_enhance</text><text class="wv" x="741" y="838.6">0.00</text>
<rect class="wp" x="599" y="844.2" width="161" height="11" rx="5.5"/><use href="#la" x="602" y="849.7"/><use href="#ra" x="756" y="849.7"/><text class="wl" x="610" y="852">detail_enhance</text><text class="wv" x="741" y="852">false</text>
</g>

<!-- ===== Notes ===== -->
<g id="node-note-aspect">
<rect class="rb" x="810" y="35" width="119" height="62" rx="4"/>
<rect class="rh" x="810" y="35" width="119" height="17" rx="4"/>
<circle class="dt" cx="818" cy="43.5" r="2.6"/><text class="tt" x="827" y="46.2">Note</text>
<rect x="816" y="59" width="108" height="33" fill="#352222"/>
<text class="mono" x="818" y="65">&lt;-- choose the aspect ratio</text>
</g>
<g id="node-note-controlnet">
<rect class="rb" x="810" y="354" width="119" height="61" rx="4"/>
<rect class="rh" x="810" y="354" width="119" height="16" rx="4"/>
<circle class="dt" cx="818" cy="362" r="2.6"/><text class="tt" x="827" y="364.7">Note</text>
<rect x="816" y="378" width="108" height="32" fill="#352222"/>
<text class="mono" x="818" y="383.5">&lt;--- controlnet</text>
<text class="mono" x="818" y="390.5">1 = Off</text>
<text class="mono" x="818" y="397.5">2 = ON</text>
</g>
<g id="node-note-noise">
<rect class="rb" x="810" y="441" width="119" height="61" rx="4"/>
<rect class="rh" x="810" y="441" width="119" height="16" rx="4"/>
<circle class="dt" cx="818" cy="449" r="2.6"/><text class="tt" x="827" y="451.7">Note</text>
<rect x="816" y="464" width="108" height="33" fill="#352222"/>
<text class="mono" x="818" y="470">&lt;---Noise Injection</text>
<text class="mono" x="818" y="477">1 = 0% Noise</text>
<text class="mono" x="818" y="484">0.5 = 50% Noise</text>
<text class="mono" x="818" y="491">1 = 100% Noise</text>
</g>
<g id="node-note-model-switch">
<rect class="rb" x="810" y="518" width="119" height="61" rx="4"/>
<rect class="rh" x="810" y="518" width="119" height="17" rx="4"/>
<circle class="dt" cx="818" cy="526.5" r="2.6"/><text class="tt" x="827" y="529.2">Note</text>
<rect x="816" y="543" width="108" height="32" fill="#352222"/>
<text class="mono" x="817" y="548.5">Model Switch</text>
<text class="mono" x="817" y="555.5">1 Base Model</text>
<text class="mono" x="817" y="562.5">2 Base Model + FreeU</text>
<text class="mono" x="817" y="569.5">3 Base Model + FreeU + IP Adapter</text>
</g>
<g id="node-note-ipadapter">
<rect class="rb" x="810" y="628" width="119" height="61" rx="4"/>
<rect class="rh" x="810" y="628" width="119" height="16" rx="4"/>
<circle class="dt" cx="818" cy="636" r="2.6"/><text class="tt" x="827" y="638.7">Note</text>
<rect x="816" y="652" width="108" height="32" fill="#352222"/>
<text class="mono" x="817" y="658">&lt;--- IP Adapter</text>
<text class="mono" x="817" y="665">Choose the Input Image weight</text>
<text class="mono" x="817" y="672">Noise should be 0-0.3</text>
</g>

<!-- ===== Sampler nodes ===== -->
<g id="node-tobasicpipe">
<rect class="pill" x="962" y="71" width="74" height="15" rx="7"/>
<circle class="dt" cx="971" cy="78.5" r="2.4"/><text class="tt" x="979" y="81.2">ToBasicPipe</text>
<circle class="cd" cx="963.5" cy="78.5" r="1.9"/><circle class="cd" cx="1034" cy="78.5" r="1.9"/>
</g>
<g id="node-empty-latent-image">
<rect class="pill" x="962" y="89" width="98" height="15" rx="7"/>
<circle class="dt" cx="971" cy="96.5" r="2.4"/><text class="tt" x="980" y="99.2">Empty Latent Image</text>
<circle class="cd" cx="963.5" cy="96.5" r="1.9"/><circle class="cd" cx="1057.5" cy="96.5" r="1.9"/>
</g>
<g id="node-147-ksampler-advanced-pipe">
<rect class="bd" x="1193" y="67" width="59" height="10" rx="2.5"/><text class="bt" x="1222.5" y="74.3">#147 Impact Pack</text>
<rect class="nb" x="1076" y="78" width="178" height="312" rx="4"/>
<rect class="nt" x="1076" y="78" width="178" height="17" rx="4"/>
<circle class="dt" cx="1084" cy="86.5" r="2.6"/><text class="tt" x="1093" y="89.2">KSampler (Advanced/pipe)</text>
<use href="#sq" class="sG" x="1078.75" y="99.45"/><use href="#sq" class="sP" x="1078.75" y="111.05"/><use href="#sq" class="sB" x="1078.75" y="122.05"/>
<use href="#sq" class="sG" x="1246.75" y="99.45"/><use href="#sq" class="sP" x="1246.75" y="111.05"/><use href="#sq" class="sR" x="1246.75" y="122.05"/>
<rect class="wp" x="1085" y="131.2" width="160" height="11" rx="5.5"/><text class="wl" x="1093" y="139">add_noise</text><text class="wv" x="1231" y="139">enable</text><circle class="ton" cx="1237" cy="136.7" r="3.6"/>
<rect class="wp" x="1085" y="144.8" width="160" height="11" rx="5.5"/><use href="#la" x="1088" y="150.3"/><use href="#ra" x="1241" y="150.3"/><text class="wl" x="1096" y="152.6">steps</text><text class="wv" x="1226" y="152.6">20</text>
<rect class="wp" x="1085" y="158.3" width="160" height="11" rx="5.5"/><use href="#la" x="1088" y="163.8"/><use href="#ra" x="1241" y="163.8"/><text class="wl" x="1096" y="166.1">cfg</text><text class="wv" x="1226" y="166.1">3.0</text>
<rect class="wp" x="1085" y="171.9" width="160" height="11" rx="5.5"/><use href="#la" x="1088" y="177.4"/><use href="#ra" x="1241" y="177.4"/><text class="wl" x="1096" y="179.7">sampler_name</text><text class="wv" x="1226" y="179.7">dpm_2</text>
<rect class="wp" x="1085" y="185.5" width="160" height="11" rx="5.5"/><use href="#la" x="1088" y="191"/><use href="#ra" x="1241" y="191"/><text class="wl" x="1096" y="193.3">scheduler</text><text class="wv" x="1226" y="193.3">karras</text>
<rect class="wp" x="1085" y="199.1" width="160" height="11" rx="5.5"/><use href="#la" x="1088" y="204.6"/><use href="#ra" x="1241" y="204.6"/><text class="wl" x="1096" y="206.9">start_at_step</text><text class="wv" x="1226" y="206.9">0</text>
<rect class="wp" x="1085" y="212.6" width="160" height="11" rx="5.5"/><use href="#la" x="1088" y="218.1"/><use href="#ra" x="1241" y="218.1"/><text class="wl" x="1096" y="220.4">end_at_step</text><text class="wv" x="1226" y="220.4">8</text>
<rect class="wp" x="1085" y="226.2" width="160" height="11" rx="5.5"/><text class="wl" x="1093" y="234">return_with_leftover_noise</text><text class="wv" x="1231" y="234">disable</text><circle class="toff" cx="1237" cy="231.7" r="3.6"/>
</g>
<g id="node-vae-decode">
<rect class="pill" x="1274" y="90" width="75" height="14" rx="7"/>
<circle class="dt" cx="1283" cy="97" r="2.4"/><text class="tt" x="1292" y="99.7">VAE Decode</text>
<circle class="cd" cx="1275.5" cy="97" r="1.9"/><circle class="cd" cx="1347" cy="97" r="1.9"/>
</g>
<g id="node-vae-encode">
<rect class="pill" x="1361" y="90" width="76" height="14" rx="7"/>
<circle class="dt" cx="1371" cy="97" r="2.4"/><text class="tt" x="1380" y="99.7">VAE Encode</text>
<circle class="cd" cx="1363" cy="97" r="1.9"/><circle class="cd" cx="1435" cy="97" r="1.9"/>
</g>
<g id="node-17-image-to-noise">
<rect class="bd" x="1378" y="107" width="69" height="9.5" rx="2.5"/><text class="bt" x="1412.5" y="114">#17 WAS Node Suite</text>
<rect class="nb" x="1270" y="118" width="178" height="130" rx="4"/>
<rect class="nt" x="1270" y="118" width="178" height="16" rx="4"/>
<circle class="dt" cx="1278" cy="126" r="2.6"/><text class="tt" x="1287" y="128.7">Image to Noise</text>
<use href="#sq" class="sL" x="1272.75" y="139.75"/><use href="#sq" class="sL" x="1440.75" y="139.75"/>
<rect class="wp" x="1278" y="148.8" width="161" height="11" rx="5.5"/><use href="#la" x="1281" y="154.3"/><use href="#ra" x="1435" y="154.3"/><text class="wl" x="1289" y="156.6">num_colors</text><text class="wv" x="1420" y="156.6">28</text>
<rect class="wp" x="1278" y="162.4" width="161" height="11" rx="5.5"/><use href="#la" x="1281" y="167.9"/><use href="#ra" x="1435" y="167.9"/><text class="wl" x="1289" y="170.2">black_mix</text><text class="wv" x="1420" y="170.2">0</text>
<rect class="wp" x="1278" y="175.9" width="161" height="11" rx="5.5"/><use href="#la" x="1281" y="181.4"/><use href="#ra" x="1435" y="181.4"/><text class="wl" x="1289" y="183.7">gaussian_mix</text><text class="wv" x="1420" y="183.7">16.0</text>
<rect class="wp" x="1278" y="189.5" width="161" height="11" rx="5.5"/><use href="#la" x="1281" y="195"/><use href="#ra" x="1435" y="195"/><text class="wl" x="1289" y="197.3">brightness</text><text class="wv" x="1420" y="197.3">1.00</text>
<rect class="wp" x="1278" y="203.1" width="161" height="11" rx="5.5"/><use href="#la" x="1281" y="208.6"/><use href="#ra" x="1435" y="208.6"/><text class="wl" x="1289" y="210.9">output_mode</text><text class="wv" x="1420" y="210.9">batch</text>
<rect class="wp" x="1278" y="216.7" width="161" height="11" rx="5.5"/><use href="#la" x="1281" y="222.2"/><use href="#ra" x="1435" y="222.2"/><text class="wl" x="1289" y="224.5">seed</text><text class="wv" x="1420" y="224.5">387120278104652</text>
<rect class="wp" x="1278" y="230.2" width="161" height="11" rx="5.5"/><use href="#la" x="1281" y="235.7"/><use href="#ra" x="1435" y="235.7"/><text class="wl" x="1289" y="238">control_after_generate</text><text class="wv" x="1420" y="238">randomize</text>
</g>
<g id="node-14-preview-image">
<rect class="bd" x="1427" y="243" width="19" height="10" rx="2.5"/><text class="bt" x="1436.5" y="250.3">#14</text>
<rect class="nb" x="1275" y="254" width="171" height="176" rx="4"/>
<rect class="nt" x="1275" y="254" width="171" height="18" rx="4"/>
<circle class="dt" cx="1283" cy="263" r="2.6"/><text class="tt" x="1292" y="265.7">Preview Image</text>
<use href="#sq" class="sL" x="1277.75" y="275.75"/>
</g>
<g id="node-149-ksampler-advanced-pipe">
<rect class="bd" x="1589" y="60" width="59" height="9.5" rx="2.5"/><text class="bt" x="1618.5" y="67">#149 Impact Pack</text>
<rect class="nb" x="1471" y="72" width="178" height="311" rx="4"/>
<rect class="nt" x="1471" y="72" width="178" height="15" rx="4"/>
<circle class="dt" cx="1479" cy="79.5" r="2.6"/><text class="tt" x="1488" y="82.2">KSampler (Advanced/pipe)</text>
<use href="#sq" class="sG" x="1473.75" y="92.75"/><use href="#sq" class="sP" x="1473.75" y="103.75"/><use href="#sq" class="sB" x="1473.75" y="114.75"/>
<use href="#sq" class="sG" x="1641.25" y="92.75"/><use href="#sq" class="sP" x="1641.25" y="104.45"/><use href="#sq" class="sR" x="1641.25" y="115.05"/>
<rect class="wp" x="1479" y="124.2" width="161" height="11" rx="5.5"/><text class="wl" x="1487" y="132">add_noise</text><text class="wv" x="1626" y="132">enable</text><circle class="ton" cx="1632" cy="129.7" r="3.6"/>
<rect class="wp" x="1479" y="137.8" width="161" height="11" rx="5.5"/><use href="#la" x="1482" y="143.3"/><use href="#ra" x="1636" y="143.3"/><text class="wl" x="1490" y="145.6">steps</text><text class="wv" x="1621" y="145.6">20</text>
<rect class="wp" x="1479" y="151.3" width="161" height="11" rx="5.5"/><use href="#la" x="1482" y="156.8"/><use href="#ra" x="1636" y="156.8"/><text class="wl" x="1490" y="159.1">cfg</text><text class="wv" x="1621" y="159.1">3.0</text>
<rect class="wp" x="1479" y="164.9" width="161" height="11" rx="5.5"/><use href="#la" x="1482" y="170.4"/><use href="#ra" x="1636" y="170.4"/><text class="wl" x="1490" y="172.7">sampler_name</text><text class="wv" x="1621" y="172.7">dpm_2</text>
<rect class="wp" x="1479" y="178.5" width="161" height="11" rx="5.5"/><use href="#la" x="1482" y="184"/><use href="#ra" x="1636" y="184"/><text class="wl" x="1490" y="186.3">scheduler</text><text class="wv" x="1621" y="186.3">karras</text>
<rect class="wp" x="1479" y="192.1" width="161" height="11" rx="5.5"/><use href="#la" x="1482" y="197.6"/><use href="#ra" x="1636" y="197.6"/><text class="wl" x="1490" y="199.9">start_at_step</text><text class="wv" x="1621" y="199.9">8</text>
<rect class="wp" x="1479" y="205.6" width="161" height="11" rx="5.5"/><use href="#la" x="1482" y="211.1"/><use href="#ra" x="1636" y="211.1"/><text class="wl" x="1490" y="213.4">end_at_step</text><text class="wv" x="1621" y="213.4">10000</text>
<rect class="wp" x="1479" y="219.2" width="161" height="11" rx="5.5"/><text class="wl" x="1487" y="227">return_with_leftover_noise</text><text class="wv" x="1626" y="227">disable</text><circle class="toff" cx="1632" cy="224.7" r="3.6"/>
</g>

<!-- ===== Hi-Res nodes ===== -->
<g id="node-156-latent-scale">
<rect class="bd" x="1798" y="70" width="59" height="9.5" rx="2.5"/><text class="bt" x="1827.5" y="77">#156 Impact Pack</text>
<rect class="nb" x="1681" y="81" width="177" height="97" rx="4"/>
<rect class="nt" x="1681" y="81" width="177" height="16" rx="4"/>
<circle class="dt" cx="1689" cy="89" r="2.6"/><text class="tt" x="1698" y="91.7">Latent Scale (on Pixel Space)</text>
<use href="#sq" class="sP" x="1683.75" y="102.45"/><use href="#sq" class="sR" x="1683.75" y="113.75"/><use href="#sq" class="sG" x="1683.75" y="124.75"/>
<use href="#sq" class="sP" x="1850.75" y="102.45"/>
<rect class="wp" x="1689" y="134.2" width="161" height="11" rx="5.5"/><use href="#la" x="1692" y="139.7"/><use href="#ra" x="1846" y="139.7"/><text class="wl" x="1700" y="142">scale_method</text><text class="wv" x="1831" y="142">nearest-exact</text>
<rect class="wp" x="1689" y="148.2" width="161" height="11" rx="5.5"/><use href="#la" x="1692" y="153.7"/><use href="#ra" x="1846" y="153.7"/><text class="wl" x="1700" y="156">scale_factor</text><text class="wv" x="1831" y="156">1.5</text>
<rect class="wp" x="1689" y="161.2" width="161" height="11" rx="5.5"/><text class="wl" x="1697" y="169">use_tiled_vae</text><text class="wv" x="1836" y="169">disabled</text><circle class="toff" cx="1842" cy="166.7" r="3.6"/>
</g>
<g id="node-162-ksampler-pipe">
<rect class="bd" x="1992" y="63" width="59" height="9.5" rx="2.5"/><text class="bt" x="2021.5" y="70">#162 Impact Pack</text>
<rect class="nb" x="1875" y="74" width="177" height="272" rx="4"/>
<rect class="nt" x="1875" y="74" width="177" height="17" rx="4"/>
<circle class="dt" cx="1883" cy="82.5" r="2.6"/><text class="tt" x="1892" y="85.2">KSampler (pipe)</text>
<use href="#sq" class="sG" x="1877.75" y="95.75"/><use href="#sq" class="sP" x="1877.75" y="106.75"/><use href="#sq" class="sB" x="1877.75" y="117.75"/>
<use href="#sq" class="sX" x="2044.75" y="95.75"/><use href="#sq" class="sP" x="2044.75" y="106.75"/><use href="#sq" class="sR" x="2044.75" y="117.75"/>
<rect class="wp" x="1883" y="127.2" width="159" height="11" rx="5.5"/><use href="#la" x="1886" y="132.7"/><use href="#ra" x="2038" y="132.7"/><text class="wl" x="1894" y="135">steps</text><text class="wv" x="2023" y="135">20</text>
<rect class="wp" x="1883" y="141" width="159" height="11" rx="5.5"/><use href="#la" x="1886" y="146.5"/><use href="#ra" x="2038" y="146.5"/><text class="wl" x="1894" y="148.8">cfg</text><text class="wv" x="2023" y="148.8">8.0</text>
<rect class="wp" x="1883" y="154.7" width="159" height="11" rx="5.5"/><use href="#la" x="1886" y="160.2"/><use href="#ra" x="2038" y="160.2"/><text class="wl" x="1894" y="162.5">sampler_name</text><text class="wv" x="2023" y="162.5">dpmpp_2m</text>
<rect class="wp" x="1883" y="168.5" width="159" height="11" rx="5.5"/><use href="#la" x="1886" y="174"/><use href="#ra" x="2038" y="174"/><text class="wl" x="1894" y="176.3">scheduler</text><text class="wv" x="2023" y="176.3">karras</text>
<rect class="wp" x="1883" y="182.2" width="159" height="11" rx="5.5"/><use href="#la" x="1886" y="187.7"/><use href="#ra" x="2038" y="187.7"/><text class="wl" x="1894" y="190">denoise</text><text class="wv" x="2023" y="190">0.50</text>
</g>
<g id="node-169-vae-decode">
<rect class="bd" x="2166" y="72" width="21" height="10" rx="2.5"/><text class="bt" x="2176.5" y="79.3">#169</text>
<rect class="nb" x="2071" y="83" width="118" height="42" rx="4"/>
<rect class="nt" x="2071" y="83" width="118" height="17" rx="4"/>
<circle class="dt" cx="2079" cy="91.5" r="2.6"/><text class="tt" x="2088" y="94.2">VAE Decode</text>
<use href="#sq" class="sP" x="2073.75" y="105.05"/><use href="#sq" class="sR" x="2073.75" y="116.45"/>
<use href="#sq" class="sL" x="2181.75" y="105.05"/>
</g>
</svg>
